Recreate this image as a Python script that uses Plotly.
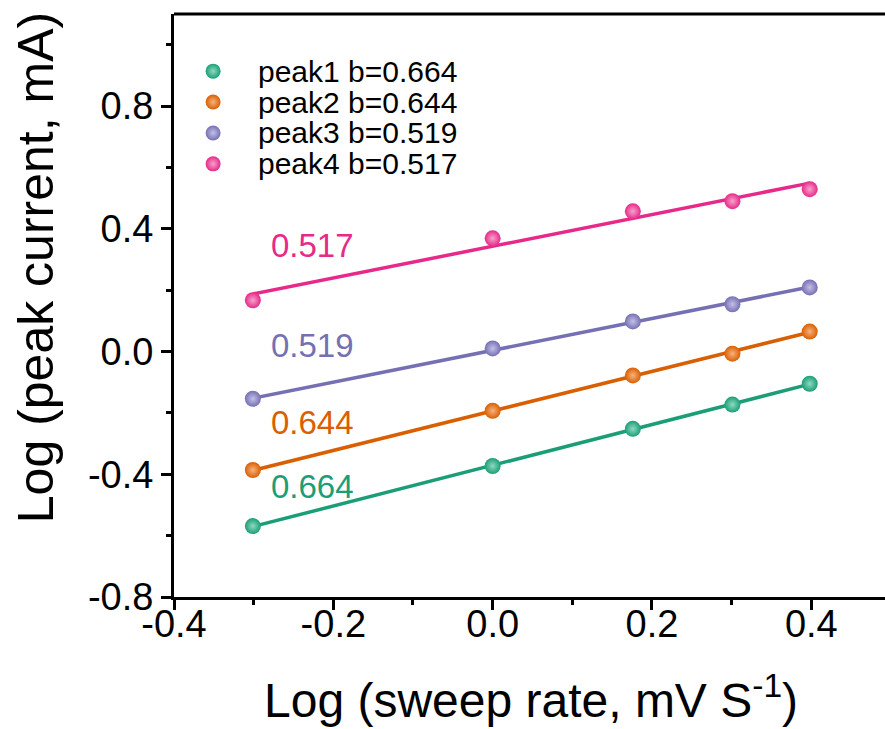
import numpy as np
import plotly.graph_objects as go

# log10 of sweep rate (0.5, 1, 1.5, 2, 2.5 mV/s)
log_rate = [-0.301, 0.0, 0.176, 0.301, 0.398]

# log10 of peak current for each redox peak
peak1 = [-0.569, -0.373, -0.252, -0.173, -0.105]
peak2 = [-0.386, -0.193, -0.078, -0.007, 0.065]
peak3 = [-0.154, 0.010, 0.098, 0.154, 0.209]
peak4 = [0.167, 0.369, 0.457, 0.490, 0.529]

names = ["peak1", "peak2", "peak3", "peak4"]
b_values = [0.664, 0.644, 0.519, 0.517]
colors = ["#1b9e77", "#d95f02", "#7570b3", "#e7298a"]
highlights = ["#8fd9c0", "#f7b27f", "#c3c0e6", "#f6a3cb"]

# tick positions and labels
x_ticks = [-0.4, -0.2, 0.0, 0.2, 0.4]
x_tick_text = ["-0.4", "-0.2", "0.0", "0.2", "0.4"]
y_ticks = [-0.8, -0.4, 0.0, 0.4, 0.8]
y_tick_text = ["-0.8", "-0.4", "0.0", "0.4", "0.8"]

# slope-label placement (x, y in data units)
label_x = [-0.226, -0.226, -0.226, -0.226]
label_y = [-0.441, -0.232, 0.020, 0.346]

series = [peak1, peak2, peak3, peak4]
FONT = "Liberation Sans, Arial"

fig = go.Figure()

# fitted lines drawn with the reported slope b through the data centroid
for ys, b, c in zip(series, b_values, colors):
    xs = np.array(log_rate)
    yv = np.array(ys)
    intercept = yv.mean() - b * xs.mean()
    xl = np.array([xs[0], xs[-1]])
    fig.add_trace(go.Scatter(
        x=xl, y=intercept + b * xl, mode="lines",
        line=dict(color=c, width=3.5), showlegend=False, hoverinfo="skip"))

# measured points
for ys, name, b, c, h in zip(series, names, b_values, colors, highlights):
    fig.add_trace(go.Scatter(
        x=log_rate, y=ys, mode="markers", name=f"{name} b={b:.3f}",
        showlegend=False,
        marker=dict(size=16, color=c, line=dict(width=0),
                    gradient=dict(type="radial", color=h))))

# legend block: symbols on an overlay axis spanning the plot area (0..1), text as annotations
leg_x = 0.055
leg_rows = [0.902, 0.849, 0.796, 0.743]
fig.add_trace(go.Scatter(
    x=[leg_x] * 4, y=leg_rows, xaxis="x2", yaxis="y2", mode="markers",
    showlegend=False, hoverinfo="skip",
    marker=dict(size=15, color=colors, line=dict(width=0),
                gradient=dict(type="radial", color=highlights))))
for ry, name, b in zip(leg_rows, names, b_values):
    fig.add_annotation(xref="paper", yref="paper", x=0.116, y=ry,
                       xanchor="left", yanchor="middle", showarrow=False,
                       text=f"{name} b={b:.3f}",
                       font=dict(family=FONT, size=30, color="black"))

# slope labels next to each line
for lx, ly, b, c in zip(label_x, label_y, b_values, colors):
    fig.add_annotation(x=lx, y=ly, text=f"{b:.3f}", showarrow=False,
                       xanchor="center", yanchor="middle",
                       font=dict(family=FONT, size=33, color=c))

# axis titles
fig.add_annotation(xref="paper", yref="paper", x=(531 - 174) / 711, y=-0.172,
                   xanchor="center", yanchor="middle",
                   text="Log (sweep rate, mV S<sup>-1</sup>)", showarrow=False,
                   font=dict(family=FONT, size=48, color="black"))
fig.add_annotation(xref="paper", yref="paper", x=(36 - 174) / 711, y=0.564,
                   xanchor="center", yanchor="middle",
                   text="Log (peak current, mA)", textangle=-90, showarrow=False,
                   font=dict(family=FONT, size=50, color="black"))

# top frame line
fig.add_shape(type="line", xref="paper", yref="paper", x0=0, x1=1, y0=1, y1=1,
              line=dict(color="black", width=3))

axis_common = dict(
    showgrid=False, zeroline=False, showline=True, linecolor="black", linewidth=3,
    ticks="outside", ticklen=10, tickwidth=3, tickcolor="black",
    tickfont=dict(family=FONT, size=38, color="black"),
)

fig.update_xaxes(range=[-0.4, 0.4925], tickmode="array", tickvals=x_ticks,
                 ticktext=x_tick_text, ticklabelstandoff=-19,
                 minor=dict(ticks="outside", ticklen=5, tickwidth=3, tickcolor="black", dtick=0.1),
                 **axis_common)
fig.update_yaxes(range=[-0.8, 1.1], tickmode="array", tickvals=y_ticks,
                 ticktext=y_tick_text,
                 minor=dict(ticks="outside", ticklen=5, tickwidth=3, tickcolor="black",
                            tick0=0, dtick=0.2),
                 **axis_common)

fig.update_layout(
    width=885, height=729,
    margin=dict(l=174, r=0, t=14, b=132),
    paper_bgcolor="white", plot_bgcolor="white",
    showlegend=False,
    xaxis2=dict(overlaying="x", range=[0, 1], visible=False),
    yaxis2=dict(overlaying="y", range=[0, 1], visible=False),
)

fig.write_html("out.html")
